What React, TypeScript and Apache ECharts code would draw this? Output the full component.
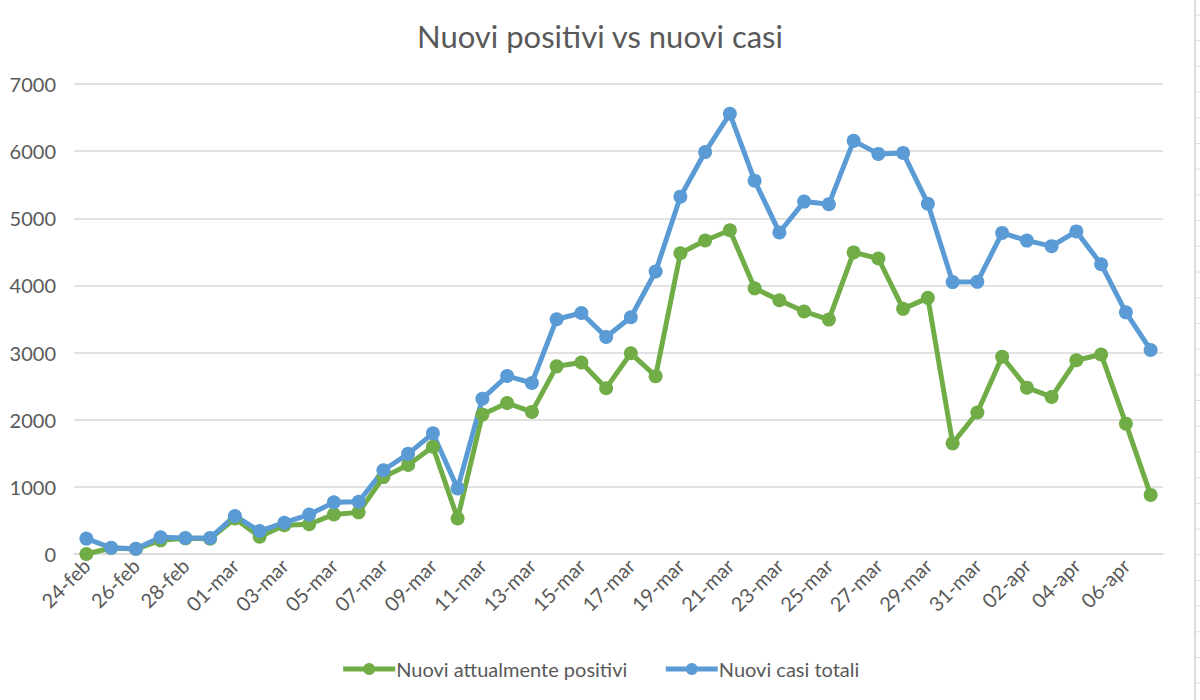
import React, { useEffect, useRef } from "react";
import * as echarts from "echarts";

const dates = [
  "24-feb", "25-feb", "26-feb", "27-feb", "28-feb", "29-feb",
  "01-mar", "02-mar", "03-mar", "04-mar", "05-mar", "06-mar", "07-mar", "08-mar", "09-mar", "10-mar",
  "11-mar", "12-mar", "13-mar", "14-mar", "15-mar", "16-mar", "17-mar", "18-mar", "19-mar", "20-mar",
  "21-mar", "22-mar", "23-mar", "24-mar", "25-mar", "26-mar", "27-mar", "28-mar", "29-mar", "30-mar",
  "31-mar", "01-apr", "02-apr", "03-apr", "04-apr", "05-apr", "06-apr", "07-apr",
];

const nuoviAttualmentePositivi = [
  0, 90, 74, 203, 233, 228,
  528, 258, 428, 443, 590, 620, 1145, 1326, 1598, 529,
  2076, 2249, 2116, 2795, 2853, 2470, 2989, 2648, 4480, 4670,
  4821, 3957, 3780, 3612, 3491, 4492, 4401, 3651, 3815, 1648,
  2107, 2937, 2477, 2339, 2886, 2972, 1941, 880,
];

const nuoviCasiTotali = [
  229, 93, 78, 250, 238, 240,
  566, 342, 466, 587, 769, 778, 1247, 1492, 1797, 977,
  2313, 2651, 2547, 3497, 3590, 3233, 3526, 4207, 5322, 5986,
  6557, 5560, 4789, 5249, 5210, 6153, 5959, 5974, 5217, 4050,
  4053, 4782, 4668, 4585, 4805, 4316, 3599, 3039,
];

const seriesNames = ["Nuovi attualmente positivi", "Nuovi casi totali"];
const titleText = "Nuovi positivi vs nuovi casi";

const FONT = "Lato, Carlito, Calibri, sans-serif";
const TEXT = "#595959";

export default function App() {
  const ref = useRef<HTMLDivElement>(null);

  useEffect(() => {
    if (!ref.current) return;
    const chart = echarts.init(ref.current, null, { renderer: "svg" });

    const rowTicks: any[] = [];
    for (let y = 15; y < 700; y += 25.7) {
      rowTicks.push({
        type: "line",
        shape: { x1: 1195, y1: y, x2: 1200, y2: y },
        style: { stroke: "#dcdcdc", lineWidth: 1 },
        silent: true,
      });
    }

    chart.setOption({
      animation: false,
      backgroundColor: "#ffffff",
      textStyle: { fontFamily: FONT },
      title: {
        text: titleText,
        left: "center",
        top: 15,
        textStyle: { fontFamily: FONT, fontSize: 31, fontWeight: "normal", color: TEXT },
      },
      legend: {
        bottom: 16,
        left: "center",
        itemWidth: 52,
        itemHeight: 15,
        itemGap: 36,
        lineStyle: { width: 5 },
        textStyle: { fontFamily: FONT, fontSize: 20, color: TEXT, padding: [0, 0, 0, -4] },
        data: seriesNames,
      },
      grid: { left: 74, right: 37, top: 84, bottom: 146 },
      xAxis: {
        type: "category",
        data: dates,
        boundaryGap: true,
        axisLine: { show: true, lineStyle: { color: "#d9d9d9", width: 1.5 } },
        axisTick: { show: false },
        axisLabel: {
          interval: 1,
          rotate: 45,
          fontFamily: FONT,
          fontSize: 20,
          color: TEXT,
          margin: 8,
        },
      },
      yAxis: {
        type: "value",
        min: 0,
        max: 7000,
        interval: 1000,
        axisLine: { show: false },
        axisTick: { show: false },
        axisLabel: {
          fontFamily: FONT,
          fontSize: 20,
          color: TEXT,
          margin: 18,
          formatter: (v: number) => String(v),
        },
        splitLine: { lineStyle: { color: "#d9d9d9", width: 1.5 } },
      },
      series: [
        {
          name: seriesNames[0],
          type: "line",
          data: nuoviAttualmentePositivi,
          symbol: "circle",
          symbolSize: 14,
          lineStyle: { width: 5, color: "#70AD47" },
          itemStyle: { color: "#70AD47" },
        },
        {
          name: seriesNames[1],
          type: "line",
          data: nuoviCasiTotali,
          symbol: "circle",
          symbolSize: 14,
          lineStyle: { width: 5, color: "#5B9BD5" },
          itemStyle: { color: "#5B9BD5" },
        },
      ],
      graphic: [
        {
          type: "line",
          shape: { x1: 1195, y1: 0, x2: 1195, y2: 700 },
          style: { stroke: "#d0d0d0", lineWidth: 1.5 },
          silent: true,
        },
        ...rowTicks,
      ],
    });

    return () => chart.dispose();
  }, []);

  return (
    <div
      ref={ref}
      style={{ position: "fixed", left: 0, top: 0, width: 1200, height: 700 }}
    />
  );
}
